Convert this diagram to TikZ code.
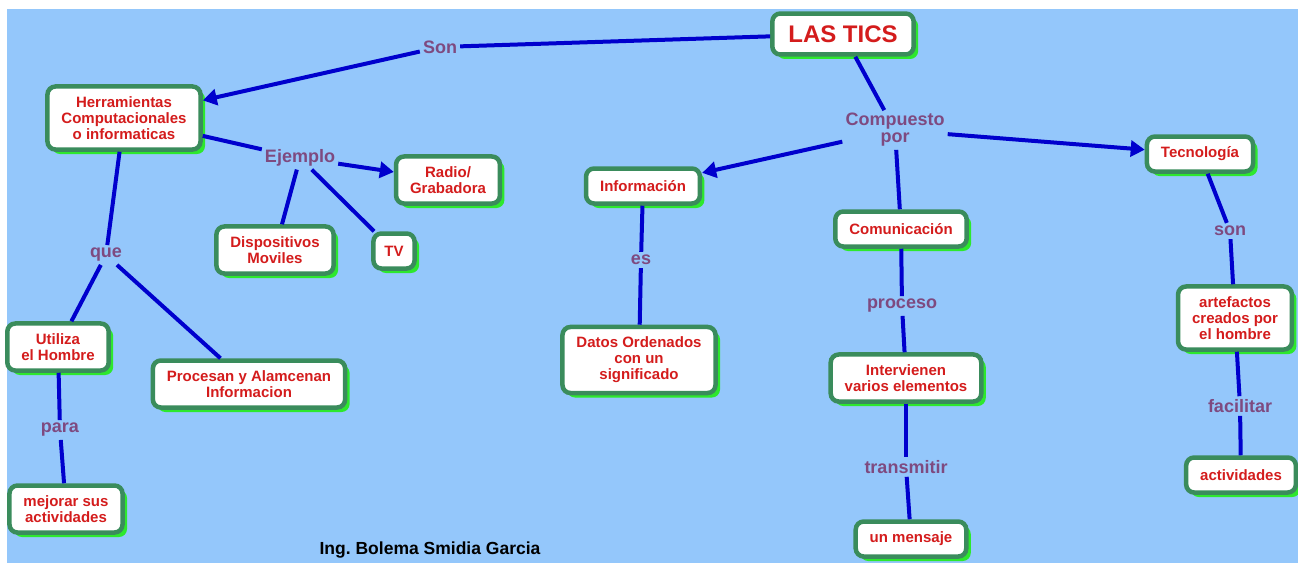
\documentclass[tikz,border=0pt]{standalone}
\usepackage{fontspec}
\setmainfont{Liberation Sans}
\usetikzlibrary{arrows.meta, shadows}

\definecolor{fondo}{RGB}{148,199,251}
\definecolor{borde}{RGB}{58,140,92}
\definecolor{sombra}{RGB}{45,232,45}
\definecolor{rojo}{RGB}{212,28,28}
\definecolor{azul}{RGB}{0,0,205}
\definecolor{morado}{RGB}{126,74,128}

\begin{document}
\begin{tikzpicture}[x=1pt, y=-1pt,
    concepto/.style={draw=borde, line width=4.5pt, fill=white, rounded corners=8pt,
      drop shadow={shadow xshift=4.5pt, shadow yshift=-4.5pt, fill=sombra, opacity=1},
      text=rojo, font=\bfseries\fontsize{15}{16}\selectfont, align=center,
      inner xsep=14pt, inner ysep=10pt, minimum height=35pt},
    frase/.style={text=morado, font=\bfseries\fontsize{18}{17}\selectfont, align=center, inner sep=3pt},
    linea/.style={draw=azul, line width=4pt},
    flecha/.style={linea, -{Triangle[length=14pt, width=16pt]}}]

    \useasboundingbox (0,0) rectangle (1298,563);
    \fill[white] (0,0) rectangle (1298,563);
    \fill[fondo] (7,9) rectangle (1298,563);

    % conceptos
    \node[concepto, font=\bfseries\fontsize{24}{26}\selectfont, inner ysep=12pt, inner xsep=16pt] (tics) at (843,34) {LAS TICS};
    \node[concepto] (herr) at (124,118) {Herramientas\\Computacionales\\o informaticas};
    \node[concepto] (radio) at (448,180) {Radio/\\Grabadora};
    \node[concepto] (disp) at (275,250) {Dispositivos\\Moviles};
    \node[concepto, inner xsep=11pt] (tv) at (394,251) {TV};
    \node[concepto] (util) at (58,347) {Utiliza\\el Hombre};
    \node[concepto] (proc) at (249,384) {Procesan y Alamcenan\\Informacion};
    \node[concepto] (mejor) at (66,509) {mejorar sus\\actividades};
    \node[concepto] (info) at (643,186) {Información};
    \node[concepto] (datos) at (639,360) {Datos Ordenados\\con un\\significado};
    \node[concepto] (comu) at (901,229) {Comunicación};
    \node[concepto] (inter) at (906,378) {Intervienen\\varios elementos};
    \node[concepto] (msj) at (911,539) {un mensaje};
    \node[concepto] (tec) at (1200,154) {Tecnología};
    \node[concepto] (arte) at (1235,318) {artefactos\\creados por\\el hombre};
    \node[concepto] (activ) at (1241,475) {actividades};

    % frases de enlace
    \node[frase] (son) at (440,47) {Son};
    \node[frase] (ejem) at (300,158) {Ejemplo};
    \node[frase] (que) at (106,255) {que};
    \node[frase] (para) at (60,430) {para};
    \node[frase] (comp) at (895,130) {Compuesto\\por};
    \node[frase] (es) at (641,260) {es};
    \node[frase] (proce) at (902,306) {proceso};
    \node[frase] (trans) at (906,467) {transmitir};
    \node[frase] (sonb) at (1230,231) {son};
    \node[frase] (facil) at (1240,406) {facilitar};

    \draw[linea] (tics) -- (son);
    \draw[flecha] (son) -- (herr);
    \draw[linea] (tics) -- (comp);
    \draw[flecha] (comp) -- (info);
    \draw[linea] (comp) -- (comu);
    \draw[flecha] (comp) -- (tec);
    \draw[linea] (herr) -- (ejem);
    \draw[flecha] (ejem) -- (radio);
    \draw[linea] (ejem) -- (disp);
    \draw[linea] (ejem) -- (tv);
    \draw[linea] (herr) -- (que);
    \draw[linea] (que) -- (util);
    \draw[linea] (que) -- (proc);
    \draw[linea] (util) -- (para);
    \draw[linea] (para) -- (mejor);
    \draw[linea] (info) -- (es);
    \draw[linea] (es) -- (datos);
    \draw[linea] (comu) -- (proce);
    \draw[linea] (proce) -- (inter);
    \draw[linea] (inter) -- (trans);
    \draw[linea] (trans) -- (msj);
    \draw[linea] (tec) -- (sonb);
    \draw[linea] (sonb) -- (arte);
    \draw[linea] (arte) -- (facil);
    \draw[linea] (facil) -- (activ);

    \node[font=\bfseries\fontsize{17.5}{18}\selectfont] (autor) at (430,550) {Ing.\ Bolema Smidia Garcia};
\end{tikzpicture}
\end{document}
